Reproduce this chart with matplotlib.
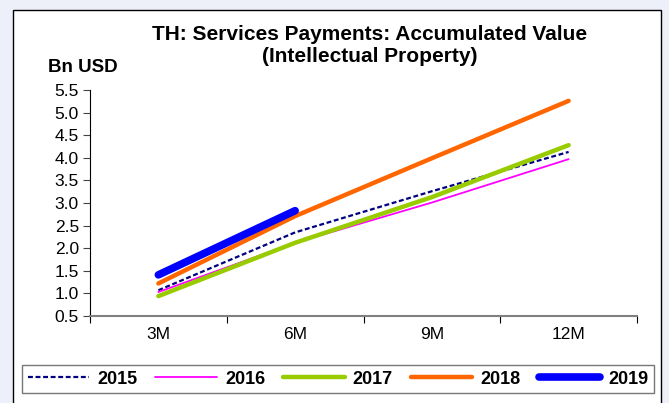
import matplotlib
matplotlib.use('Agg')
import matplotlib.pyplot as plt
from matplotlib.patches import Rectangle

plt.rcParams['font.family'] = ['Liberation Sans', 'DejaVu Sans']

# Accumulated IP service payments, Bn USD
periods = ['3M', '6M', '9M', '12M']
years = ['2015', '2016', '2017', '2018', '2019']
val_2015 = [1.07, 2.35, 3.26, 4.13]
val_2016 = [1.03, 2.12, 3.01, 3.97]
val_2017 = [0.94, 2.12, 3.13, 4.28]
val_2018 = [1.22, 2.71, 3.99, 5.26]
val_2019 = [1.41, 2.83]

series = [val_2015, val_2016, val_2017, val_2018, val_2019]
colors = ['#000080', '#FF00FF', '#99CC00', '#FF6600', '#0000FF']
widths = [1.6, 1.3, 3.2, 3.2, 5.5]
styles = ['--', '-', '-', '-', '-']

fig = plt.figure(figsize=(6.69, 4.03), dpi=100)
fig.patch.set_facecolor('#eef0f9')
# white panel with black border, kept behind the axes
fig.patches.append(Rectangle((13/669, -0.01), 648/669, 1 - 10/403 + 0.01,
                             transform=fig.transFigure, facecolor='white',
                             edgecolor='black', linewidth=1.0, zorder=-5))

ax = fig.add_axes([90/669, 1 - 316/403, 547/669, 226/403])
ax.set_facecolor('none')
ax.set_zorder(2)

lines = []
for vals, col, lw, ls, yr in zip(series, colors, widths, styles, years):
    xs = [i + 0.5 for i in range(len(vals))]
    ln, = ax.plot(xs, vals, color=col, lw=lw, ls=ls, label=yr,
                  solid_capstyle='round', dash_capstyle='butt')
    if ls == '--':
        ln.set_dashes((2.2, 1.2))
    lines.append(ln)

ax.set_xlim(0, 4)
ax.set_ylim(0.5, 5.5)
ax.set_yticks([0.5 + 0.5 * i for i in range(11)])
ax.set_yticklabels([f'{0.5 + 0.5 * i:.1f}' for i in range(11)], fontsize=12.5)
ax.set_xticks([0, 1, 2, 3, 4])
ax.set_xticklabels([])
ax.set_xticks([i + 0.5 for i in range(4)], minor=True)
ax.set_xticklabels(periods, minor=True, fontsize=12.5)
ax.tick_params(axis='x', which='minor', length=0, pad=8)
ax.tick_params(axis='x', which='major', length=5, direction='out', color='black')
ax.tick_params(axis='y', length=5, direction='out', pad=3, color='#444444')

for s in ['top', 'right']:
    ax.spines[s].set_visible(False)
ax.spines['bottom'].set_color('#808080')
ax.spines['bottom'].set_linewidth(1.5)
ax.spines['left'].set_color('black')

fig.text(370/669, 1 - 34/403, 'TH: Services Payments: Accumulated Value',
         ha='center', va='center', fontsize=15, fontweight='bold')
fig.text(370/669, 1 - 57/403, '(Intellectual Property)',
         ha='center', va='center', fontsize=15, fontweight='bold')
fig.text(48/669, 1 - 68/403, 'Bn USD', ha='left', va='center',
         fontsize=13.5, fontweight='bold')

leg = fig.legend(handles=lines, loc='center', ncol=5,
                 bbox_to_anchor=(338/669, 1 - 379/403),
                 frameon=True, fancybox=False, handlelength=3.4,
                 handletextpad=0.45, columnspacing=1.0, borderpad=0.3,
                 borderaxespad=0, prop={'weight': 'bold', 'size': 13})
leg.get_frame().set_edgecolor('#555555')
leg.get_frame().set_linewidth(1.0)

fig.savefig('out.png', dpi=100, facecolor=fig.get_facecolor())
